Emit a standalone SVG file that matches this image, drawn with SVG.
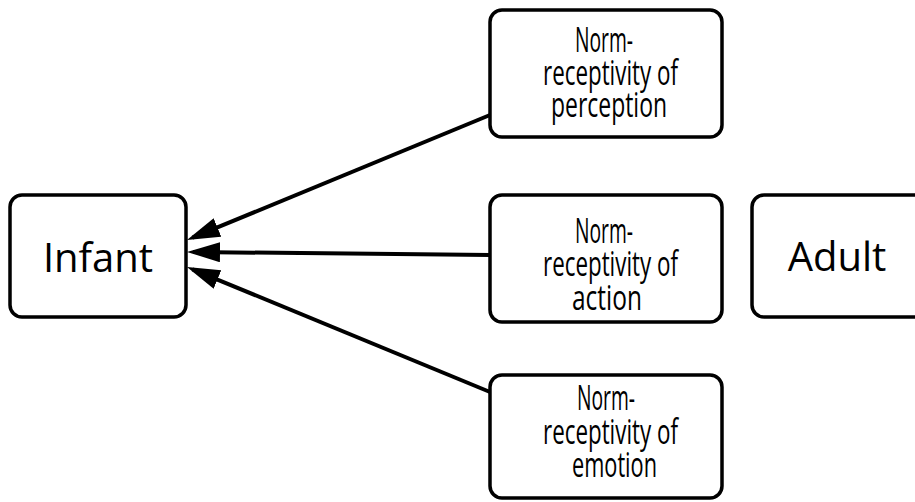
<svg xmlns="http://www.w3.org/2000/svg" width="915" height="502" viewBox="0 0 915 502">
  <style>
    .box { fill: #ffffff; stroke: #000000; stroke-width: 3.5; }
    .big { font-family: "Open Sans", "Liberation Sans", sans-serif; font-size: 40px; fill: #000000; text-anchor: middle; }
    .small { font-family: "Open Sans", "Liberation Sans", sans-serif; font-size: 35px; fill: #000000; }
    .link { fill: none; stroke: #000000; stroke-width: 4; }
  </style>
  <defs>
    <marker id="arrow" markerUnits="userSpaceOnUse" markerWidth="34" markerHeight="22" refX="27" refY="10" orient="auto">
      <path d="M0,0 L33,10 L0,20 z" fill="#000000"/>
    </marker>
  </defs>
  <rect width="915" height="502" fill="#ffffff"/>

  <g id="infant">
    <rect class="box" x="10" y="195" width="176" height="122" rx="12"/>
    <text class="big" x="98" y="272">Infant</text>
  </g>

  <g id="perception">
    <rect class="box" x="490" y="10" width="232" height="127" rx="12"/>
    <text class="small">
      <tspan x="575" y="52" textLength="58" lengthAdjust="spacingAndGlyphs">Norm-</tspan>
      <tspan x="543" y="85" textLength="135" lengthAdjust="spacingAndGlyphs">receptivity of</tspan>
      <tspan x="551" y="117" textLength="116" lengthAdjust="spacingAndGlyphs">perception</tspan>
    </text>
  </g>

  <g id="action">
    <rect class="box" x="490" y="195" width="232" height="127" rx="12"/>
    <text class="small">
      <tspan x="575" y="243" textLength="58" lengthAdjust="spacingAndGlyphs">Norm-</tspan>
      <tspan x="543" y="276" textLength="135" lengthAdjust="spacingAndGlyphs">receptivity of</tspan>
      <tspan x="572" y="310" textLength="70" lengthAdjust="spacingAndGlyphs">action</tspan>
    </text>
  </g>

  <g id="emotion">
    <rect class="box" x="490" y="375" width="232" height="123" rx="12"/>
    <text class="small">
      <tspan x="577" y="410" textLength="58" lengthAdjust="spacingAndGlyphs">Norm-</tspan>
      <tspan x="543" y="444" textLength="135" lengthAdjust="spacingAndGlyphs">receptivity of</tspan>
      <tspan x="572" y="477" textLength="85" lengthAdjust="spacingAndGlyphs">emotion</tspan>
    </text>
  </g>

  <g id="adult">
    <rect class="box" x="752" y="195" width="190" height="122" rx="12"/>
    <text class="big" x="837" y="271">Adult</text>
  </g>

  <g id="connectors">
    <line class="link" x1="490" y1="115" x2="192.5" y2="237.7" marker-end="url(#arrow)"/>
    <line class="link" x1="490" y1="255" x2="193" y2="252" marker-end="url(#arrow)"/>
    <line class="link" x1="490" y1="392" x2="192.5" y2="269.3" marker-end="url(#arrow)"/>
  </g>
</svg>
